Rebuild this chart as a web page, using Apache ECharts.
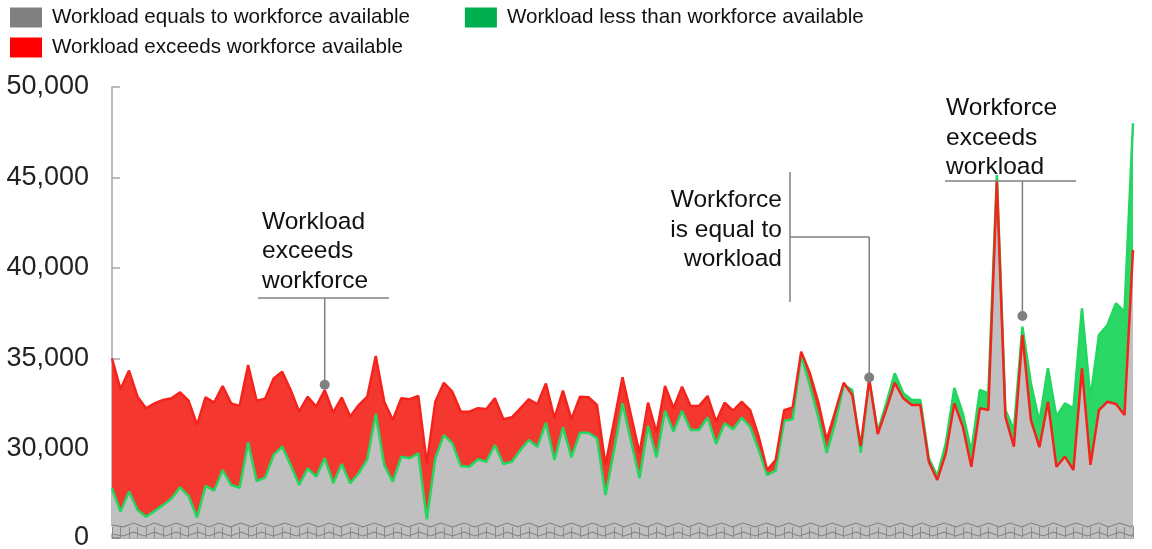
<!DOCTYPE html>
<html>
<head>
<meta charset="utf-8">
<script src="https://cdn.jsdelivr.net/npm/echarts@6/dist/echarts.min.js"></script>
<style>
html,body{margin:0;padding:0;background:#fff;}
#c{width:1152px;height:549px;}
</style>
</head>
<body>
<div id="c"></div>
<script>
// ---- data ----
const categories = Array.from({length: 121}, (_, i) => 'P' + (i + 1));

const workload = [
  35000, 33300, 34330, 32890, 32250, 32520, 32710, 32800, 33130, 32670,
  31330, 32860, 32560, 33480, 32520, 32380, 34640, 32670, 32780, 33900,
  34270, 33260, 32060, 32890, 32340, 33260, 32010, 32840, 31790, 32430,
  32890, 35140, 32610, 31600, 32800, 32750, 32930, 29210, 32610, 33660,
  33170, 32060, 32060, 32250, 32210, 32800, 31640, 31750, 32250, 32750,
  32470, 33620, 31700, 33220, 31640, 32890, 32860, 32430, 29120, 31500,
  33960, 31860, 29760, 32560, 30900, 33480, 32250, 33440, 32380, 32380,
  32930, 31510, 32560, 32120, 32610, 32150, 30700, 28840, 29390, 32150,
  32300, 35380, 34220, 32610, 30500, 32060, 33660, 32980, 30170, 33850,
  30830, 32190, 33660, 32800, 32430, 32430, 29300, 28290, 29760, 32520,
  31230, 29020, 32250, 32150, 44770, 31790, 30130, 36300, 31600, 30100,
  32610, 29020, 29580, 28840, 34460, 29120, 32150, 32610, 32490, 31880,
  41000
];

const workforce = [
  27830, 26540, 27650, 26630, 26260, 26570, 26900, 27270, 27880, 27400,
  26220, 27960, 27700, 28840, 28010, 27860, 30370, 28230, 28420, 29670,
  30130, 29120, 28010, 28930, 28470, 29490, 28110, 29170, 28110, 28660,
  29430, 31930, 29120, 28190, 29580, 29490, 29760, 26120, 29490, 30770,
  30310, 29060, 29020, 29430, 29300, 30220, 29170, 29300, 29950, 30500,
  30130, 31450, 29390, 31200, 29540, 30900, 30900, 30590, 27460, 29900,
  32520, 30440, 28380, 31270, 29540, 32120, 30960, 32120, 31050, 31050,
  31750, 30280, 31420, 31090, 31730, 31230, 29950, 28560, 28800, 31560,
  31640, 35190, 33540, 31790, 29780, 31430, 33540, 33260, 29800, 33810,
  30960, 32520, 34180, 33080, 32710, 32710, 29490, 28500, 30310, 33370,
  31970, 29850, 33260, 33070, 45140, 32150, 31050, 36760, 33620, 31500,
  34460, 31790, 32520, 32250, 37770, 32800, 36300, 36850, 38050, 37590,
  48000
];

const yTicks = [0, 30000, 35000, 40000, 45000, 50000];

// annotation anchors: [category index, value]
const annotationAnchors = [[25, 33550], [89, 33950], [107, 37350]];

const NAME_EQ = 'Workload equals to workforce available';
const NAME_LESS = 'Workload less than workforce available';
const NAME_EXC = 'Workload exceeds workforce available';

// derived stacked parts
const equalPart = workload.map((w, i) => Math.min(w, workforce[i]));
const exceedPart = workload.map((w, i) => Math.max(0, w - workforce[i]));
const lessPart = workload.map((w, i) => Math.max(0, workforce[i] - w));

const FONT = 'Liberation Sans, Arial, sans-serif';

const chart = echarts.init(document.getElementById('c'), null, {renderer: 'canvas'});

const option = {
  animation: false,
  backgroundColor: '#ffffff',
  legend: [
    {
      left: 10, top: 7, orient: 'horizontal', padding: 0,
      itemWidth: 32, itemHeight: 20, itemGap: 55,
      icon: 'rect', selectedMode: false,
      textStyle: {fontFamily: FONT, fontSize: 20.6, color: '#111', padding: [2, 0, 0, 5]},
      data: [
        {name: NAME_EQ, itemStyle: {color: '#808080'}},
        {name: NAME_LESS, itemStyle: {color: '#00b050'}}
      ]
    },
    {
      left: 10, top: 37, orient: 'horizontal', padding: 0,
      itemWidth: 32, itemHeight: 20,
      icon: 'rect', selectedMode: false,
      textStyle: {fontFamily: FONT, fontSize: 20.6, color: '#111', padding: [2, 0, 0, 5]},
      data: [
        {name: NAME_EXC, itemStyle: {color: '#ff0000'}}
      ]
    }
  ],
  grid: {left: 112, right: 19, top: 87, bottom: 11},
  xAxis: {
    type: 'category',
    data: categories,
    boundaryGap: false,
    z: 150,
    axisLine: {show: true, lineStyle: {color: '#b0b0b0', width: 1}},
    axisTick: {show: true, inside: true, length: 11, interval: 0, lineStyle: {color: '#8a8a8a', width: 1}},
    axisLabel: {show: false},
    splitLine: {show: false}
  },
  yAxis: {
    type: 'value',
    min: 0, max: 50000, interval: 5000,
    breaks: [{start: 250, end: 25773, gap: 440}],
    breakArea: {
      show: true,
      itemStyle: {color: '#c0c0c0', borderColor: '#808080', borderWidth: 2, borderType: 'solid', opacity: 1},
      zigzagAmplitude: 2,
      zigzagMinSpan: 10,
      zigzagMaxSpan: 12,
      zigzagZ: 100,
      expandOnClick: false
    },
    breakLabelLayout: {moveOverlap: false},
    axisLine: {show: true, lineStyle: {color: '#a6a6a6', width: 1.5}},
    axisTick: {show: true, inside: true, length: 8, lineStyle: {color: '#a6a6a6', width: 1.5}},
    splitLine: {show: false},
    axisLabel: {
      margin: 23,
      showMinLabel: true,
      fontFamily: FONT, fontSize: 27, color: '#222',
      formatter: function (value, index, extra) {
        if (extra && extra.break) return '';
        if (yTicks.indexOf(value) < 0) return '';
        return value.toLocaleString('en-US');
      }
    }
  },
  series: [
    {
      name: NAME_EQ, type: 'line', stack: 'total', data: equalPart,
      symbol: 'none', lineStyle: {width: 0}, itemStyle: {color: '#808080'},
      areaStyle: {color: '#c0c0c0', opacity: 1}, z: 1
    },
    {
      name: NAME_EXC, type: 'line', stack: 'total', data: exceedPart,
      symbol: 'none', lineStyle: {width: 0}, itemStyle: {color: '#ff0000'},
      areaStyle: {color: '#f5382f', opacity: 1}, z: 1
    },
    {
      name: NAME_LESS, type: 'line', stack: 'total', data: lessPart,
      symbol: 'none', lineStyle: {width: 0}, itemStyle: {color: '#00b050'},
      areaStyle: {color: '#2ad866', opacity: 1}, z: 1
    },
    {
      name: 'Workforce', type: 'line', data: workforce,
      symbol: 'none', lineStyle: {width: 2.5, color: '#22d65f'}, z: 3
    },
    {
      name: 'Workload', type: 'line', data: workload,
      symbol: 'none', lineStyle: {width: 2.5, color: '#f4231c'}, z: 4
    }
  ]
};

chart.setOption(option);

// ---- annotations (leader lines anchored to data points) ----
const px = annotationAnchors.map(a => chart.convertToPixel({gridIndex: 0}, [categories[a[0]], a[1]]));
const zeroPx = chart.convertToPixel({gridIndex: 0}, [categories[0], yTicks[0]]);
const LC = '#808080';
const txt = (text, x, y, align) => ({
  type: 'text', z: 200,
  style: {text: text, x: x, y: y, font: '24.5px ' + FONT, fill: '#111', textAlign: align, textVerticalAlign: 'top', lineHeight: 29.5}
});
const seg = (x1, y1, x2, y2) => ({
  type: 'line', z: 200, shape: {x1: x1, y1: y1, x2: x2, y2: y2},
  style: {stroke: LC, lineWidth: 1.5}
});
const dot = (p) => ({type: 'circle', z: 201, shape: {cx: p[0], cy: p[1], r: 5}, style: {fill: LC}});

const g = [];
// "0" tick label of the broken axis
g.push({
  type: 'text', z: 200,
  style: {text: String(yTicks[0]), x: zeroPx[0] - 23, y: zeroPx[1], font: '27px ' + FONT, fill: '#222', textAlign: 'right', textVerticalAlign: 'middle'}
});
g.push(seg(zeroPx[0], zeroPx[1], zeroPx[0] + 8, zeroPx[1]));
// A: workload exceeds workforce
g.push(txt('Workload\nexceeds\nworkforce', 262, 207, 'left'));
g.push(seg(258, 298, 389, 298));
g.push(seg(px[0][0], 298, px[0][0], px[0][1]));
g.push(dot(px[0]));
// B: workforce is equal to workload
g.push(txt('Workforce\nis equal to\nworkload', 782, 185.5, 'right'));
g.push(seg(790, 172, 790, 302));
g.push(seg(790, 237, px[1][0], 237));
g.push(seg(px[1][0], 237, px[1][0], px[1][1]));
g.push(dot(px[1]));
// C: workforce exceeds workload
g.push(txt('Workforce\nexceeds\nworkload', 946, 93.5, 'left'));
g.push(seg(945, 181, 1076, 181));
g.push(seg(px[2][0], 181, px[2][0], px[2][1]));
g.push(dot(px[2]));

chart.setOption({graphic: g});
</script>
</body>
</html>
